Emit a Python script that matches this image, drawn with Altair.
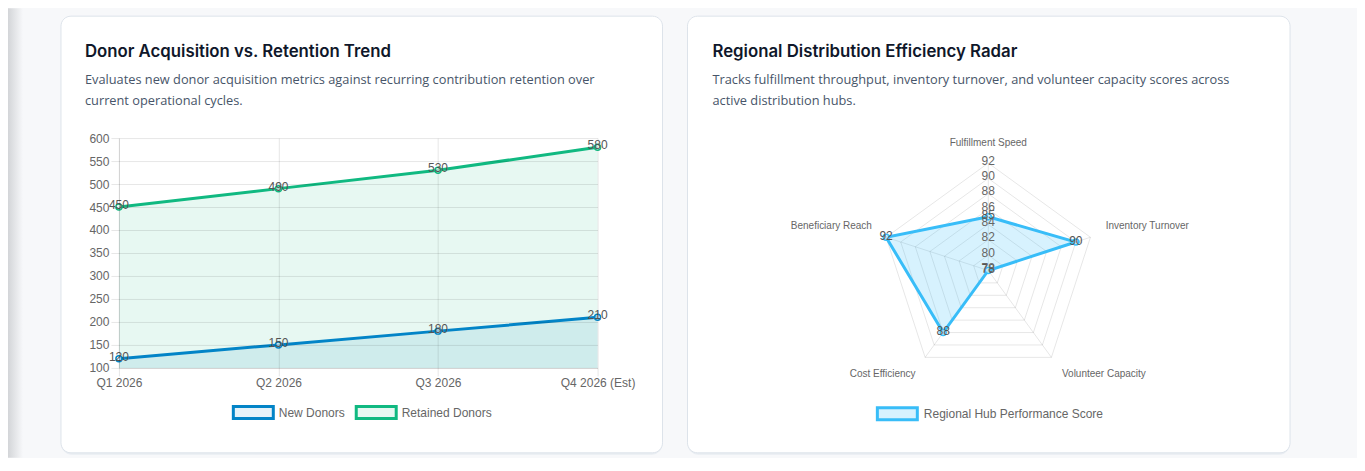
import altair as alt
import pandas as pd

# ---- data ----
quarters = ["Q1 2026", "Q2 2026", "Q3 2026", "Q4 2026 (Est)"]
donor_series = ["New Donors", "Retained Donors"]
new_donors = [120, 150, 180, 210]
retained_donors = [450, 490, 530, 580]
donor_ticks = [100, 150, 200, 250, 300, 350, 400, 450, 500, 550, 600]

radar_axes = ["Fulfillment Speed", "Inventory Turnover", "Volunteer Capacity",
              "Cost Efficiency", "Beneficiary Reach"]
radar_scores = [85, 90, 78, 88, 92]
radar_ticks = [78, 80, 82, 84, 86, 88, 90, 92]
radar_series = ["Regional Hub Performance Score"]

left_title = "Donor Acquisition vs. Retention Trend"
left_sub = ("Evaluates new donor acquisition metrics against recurring contribution retention over\n"
            "current operational cycles.")
right_title = "Regional Distribution Efficiency Radar"
right_sub = ("Tracks fulfillment throughput, inventory turnover, and volunteer capacity scores across\n"
             "active distribution hubs.")

# ---- style ----
BLUE = "#0284c7"
GREEN = "#10b981"
SKY = "#38bdf8"
GRID = "rgba(0,0,0,0.1)"
TXT = "#666666"
BG = "#f7f8fa"
CHART_FONT = "Liberation Sans"
BOX = "M-1,-0.3H1V0.3H-1Z"

one = pd.DataFrame({"k": [0]})


def card(x0, x1, y0, y1):
    shadow = alt.Chart(one).mark_rect(fill="#e9edf2", cornerRadius=11).encode(
        x=alt.value(x0), x2=alt.value(x1), y=alt.value(y0 + 1), y2=alt.value(y1 + 2))
    body = alt.Chart(one).mark_rect(fill="white", stroke="#dde3ea", strokeWidth=1, cornerRadius=10).encode(
        x=alt.value(x0), x2=alt.value(x1), y=alt.value(y0), y2=alt.value(y1))
    return shadow + body


def heading(x, title, sub):
    t = alt.Chart(one).mark_text(align="left", baseline="alphabetic", font="Inter", fontSize=16.8,
                                 fontWeight=600, color="#0f172a").encode(
        x=alt.value(x), y=alt.value(-81), text=alt.value(title))
    s = alt.Chart(one).mark_text(align="left", baseline="alphabetic", font="Open Sans", fontSize=12.8,
                                 color="#475569", lineBreak="\n", lineHeight=21).encode(
        x=alt.value(x), y=alt.value(-54.5), text=alt.value(sub))
    return t + s


# ---- left: donor trend ----
donors = pd.DataFrame({
    "quarter": quarters * 2,
    "series": [donor_series[0]] * len(quarters) + [donor_series[1]] * len(quarters),
    "value": new_donors + retained_donors,
})

W1, H1 = 479, 230
x_enc = alt.X("quarter:N", sort=quarters, scale=alt.Scale(type="point", padding=0),
              axis=alt.Axis(title=None, labelAngle=0, grid=True, gridColor=GRID, domainColor=GRID,
                            tickColor=GRID, tickSize=8, labelPadding=2, zindex=1))
y_enc = alt.Y("value:Q", stack=None, scale=alt.Scale(domain=[100, 600], zero=False, nice=False),
              axis=alt.Axis(title=None, values=donor_ticks, grid=True, gridColor=GRID, domainColor=GRID,
                            tickColor=GRID, tickSize=8, labelPadding=2, zindex=1))
donor_legend = alt.Legend(title=None, orient="none", legendX=113, legendY=253, direction="horizontal",
                          symbolType=BOX, symbolSize=1600, symbolStrokeWidth=3, labelOffset=4,
                          columnPadding=4, labelFontSize=12, labelColor=TXT, labelFont=CHART_FONT)
fill_scale = alt.Scale(domain=donor_series, range=["rgba(2,132,199,0.1)", "rgba(16,185,129,0.1)"])
line_scale = alt.Scale(domain=donor_series, range=[BLUE, GREEN])

base = alt.Chart(donors).encode(x=x_enc, y=y_enc)
areas = base.mark_area().encode(y2=alt.datum(100),
                                fill=alt.Fill("series:N", scale=fill_scale, legend=donor_legend))
lines = base.mark_line(strokeWidth=3).encode(
    stroke=alt.Stroke("series:N", scale=line_scale, legend=donor_legend))
points = base.mark_point(size=36, strokeWidth=1.5, fill="white", fillOpacity=0.6).encode(
    stroke=alt.Stroke("series:N", scale=line_scale, legend=None))
labels = base.mark_text(dy=-2, fontSize=12, color="#555555", font=CHART_FONT).encode(text="value:Q")

strip = alt.Chart(one).mark_rect(
    fill=alt.Gradient(gradient="linear", x1=0, x2=1, y1=0, y2=0,
                      stops=[alt.GradientStop(color="#d3d5d8", offset=0),
                             alt.GradientStop(color=BG, offset=1)])).encode(
    x=alt.value(-111), x2=alt.value(-96), y=alt.value(-130), y2=alt.value(320))

left = alt.layer(strip, card(-58, 544, -122, 315), heading(-34, left_title, left_sub),
                 areas, lines, points, labels).properties(width=W1, height=H1)

# ---- right: radar ----
R_PX = 107.5
W2, H2 = 2 * R_PX, 265
ydom = (H2 / 2) / R_PX
rmin, rmax = radar_ticks[0], radar_ticks[-1]
n = len(radar_axes)
rx = alt.Scale(domain=[-1, 1], nice=False, zero=False)
ry = alt.Scale(domain=[-ydom, ydom], nice=False, zero=False)


def RX(f):
    return alt.X(f, type="quantitative", scale=rx, axis=None)


def RY(f):
    return alt.Y(f, type="quantitative", scale=ry, axis=None)


ang = f"2 * PI * datum.idx / {n}"

rings = pd.DataFrame([{"tick": t, "idx": i % n, "order": i} for t in radar_ticks for i in range(n + 1)])
ring_layer = alt.Chart(rings).transform_calculate(
    r=f"(datum.tick - {rmin}) / {rmax - rmin}"
).transform_calculate(
    px=f"datum.r * sin({ang})", py=f"datum.r * cos({ang})"
).mark_line(stroke=GRID, strokeWidth=1).encode(
    x=RX("px"), y=RY("py"), detail="tick:N", order="order:Q")

spokes = pd.DataFrame({"idx": list(range(n))})
spoke_layer = alt.Chart(spokes).transform_calculate(
    x0="0", y0="0", x1=f"sin({ang})", y1=f"cos({ang})"
).mark_rule(stroke=GRID, strokeWidth=1).encode(
    x=RX("x0"), y=RY("y0"), x2="x1:Q", y2="y1:Q")

radar = pd.DataFrame({"axis": radar_axes, "score": radar_scores, "idx": list(range(n)),
                      "series": radar_series * n})
poly = pd.concat([radar, radar.iloc[[0]]], ignore_index=True)
poly["order"] = list(range(n + 1))


def radar_pos(chart):
    return chart.transform_calculate(
        r=f"(datum.score - {rmin}) / {rmax - rmin}"
    ).transform_calculate(px=f"datum.r * sin({ang})", py=f"datum.r * cos({ang})")


poly_layer = radar_pos(alt.Chart(poly)).mark_line(
    fill="rgba(56,189,248,0.2)", strokeWidth=3, strokeJoin="miter").encode(
    x=RX("px"), y=RY("py"), order="order:Q",
    stroke=alt.Stroke("series:N", scale=alt.Scale(domain=radar_series, range=[SKY]),
                      legend=alt.Legend(title=None, orient="none", legendX=-5, legendY=254.5,
                                        symbolType=BOX, symbolSize=1600, symbolStrokeWidth=3,
                                        symbolFillColor="rgba(56,189,248,0.2)", labelOffset=5,
                                        labelLimit=300, labelFontSize=12, labelColor=TXT,
                                        labelFont=CHART_FONT)))
pt_layer = radar_pos(alt.Chart(radar)).mark_point(size=36, strokeWidth=1.5, stroke=SKY,
                                                  fill="white", fillOpacity=0.6).encode(
    x=RX("px"), y=RY("py"))
val_layer = radar_pos(alt.Chart(radar)).mark_text(dy=-1.5, fontSize=12, color="#555555",
                                                  font=CHART_FONT).encode(
    x=RX("px"), y=RY("py"), text="score:Q")

ticks = pd.DataFrame({"tick": radar_ticks})
tick_layer = alt.Chart(ticks).transform_calculate(
    r=f"(datum.tick - {rmin}) / {rmax - rmin}", zero="0"
).mark_text(dy=-2.5, fontSize=12, color=TXT, font=CHART_FONT).encode(
    x=RX("zero"), y=RY("r"), text="tick:Q")


def axis_labels(align, test, dx):
    return alt.Chart(radar).transform_calculate(
        s=f"sin({ang})", c=f"cos({ang})"
    ).transform_calculate(
        lx="1.12 * datum.s", ly="1.12 * datum.c + (datum.c > 0 ? 0.065 : -0.058)"
    ).transform_filter(test).mark_text(
        align=align, baseline="middle", dx=dx, fontSize=10, color=TXT, font=CHART_FONT).encode(
        x=RX("lx"), y=RY("ly"), text="axis:N")


ax_c = axis_labels("center", "abs(datum.s) < 0.1", 0)
ax_l = axis_labels("left", "datum.s >= 0.1", 3)
ax_r = axis_labels("right", "datum.s <= -0.1", -2)

right = alt.layer(card(-193.5, 409.5, -122, 315), heading(-168.5, right_title, right_sub),
                  ring_layer, spoke_layer, poly_layer, pt_layer, val_layer, tick_layer,
                  ax_c, ax_l, ax_r).properties(width=W2, height=H2)

chart = alt.hconcat(left, right, spacing=283.5, bounds="flush").resolve_scale(
    stroke="independent", fill="independent", x="independent", y="independent"
).resolve_legend(
    stroke="independent", fill="independent"
).properties(
    padding={"left": 0, "top": 0, "right": 66, "bottom": 0},
    background=BG,
).configure_view(stroke=None).configure_axis(
    labelFont=CHART_FONT, labelFontSize=12, labelColor=TXT
)

chart.save("out.html", embed_options={"renderer": "svg", "actions": False})
